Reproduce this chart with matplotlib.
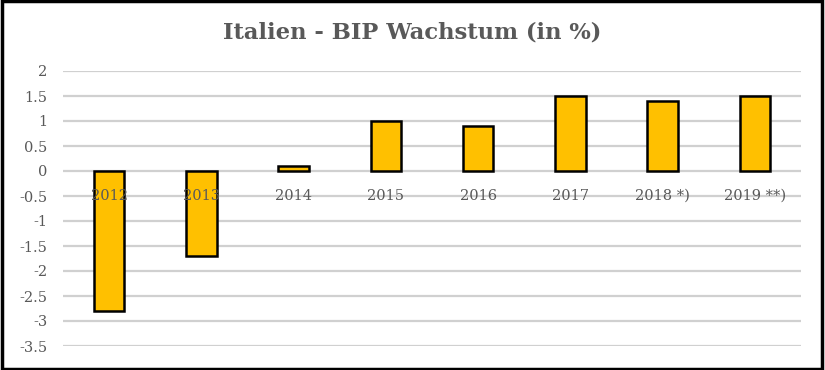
import numpy as np
import matplotlib.pyplot as plt
from matplotlib.patches import Rectangle

years = ['2012', '2013', '2014', '2015', '2016', '2017', '2018 *)', '2019 **)']
wachstum = [-2.8, -1.7, 0.1, 1.0, 0.9, 1.5, 1.4, 1.5]
yticks = [2, 1.5, 1, 0.5, 0, -0.5, -1, -1.5, -2, -2.5, -3, -3.5]

plt.rcParams['font.family'] = ['DejaVu Serif']
grau = '#595959'

fig = plt.figure(figsize=(8.25, 3.7), dpi=100)
ax = fig.add_axes([63 / 825, 1 - 346 / 370, 738 / 825, 275 / 370])

x = np.arange(len(years))
ax.bar(x, wachstum, width=0.33, color='#FFC000', edgecolor='black', linewidth=1.8, zorder=3)

ax.set_xlim(-0.5, len(years) - 0.5)
ax.set_ylim(-3.5, 2)
ax.set_yticks(yticks)
ax.set_yticklabels([('%g' % v) for v in yticks], color=grau, fontsize=10.5)
ax.yaxis.grid(True, color='#d0d0d0', linewidth=1.6, zorder=0)
ax.tick_params(axis='y', length=0, pad=11)
ax.set_xticks([])
for s in ax.spines.values():
    s.set_visible(False)

# Kategorien direkt unter der Nulllinie wie in Excel
for xi, lab in zip(x, years):
    ax.text(xi, -0.47, lab, ha='center', va='center_baseline', color=grau, fontsize=10.5, zorder=4)

fig.text(0.5, 1 - 32 / 370, 'Italien - BIP Wachstum (in %)', ha='center', va='center',
         fontsize=16.3, fontweight='bold', color=grau)

fig.patches.append(Rectangle((0.002, 0.004), 0.994, 0.992, transform=fig.transFigure,
                             fill=False, edgecolor='black', linewidth=2.5))

fig.savefig('out.png', dpi=100)
